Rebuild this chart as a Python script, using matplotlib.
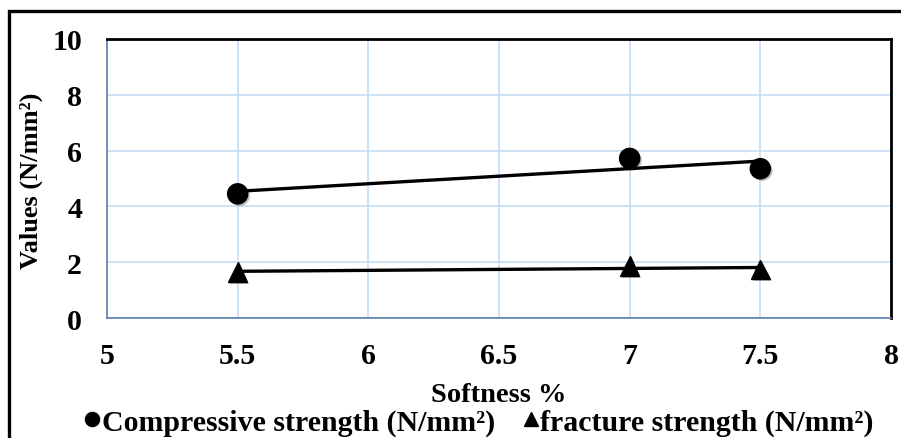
import numpy as np
import matplotlib.pyplot as plt
import matplotlib.patheffects as pe
from matplotlib.patches import Rectangle

plt.rcParams['font.family'] = ['Liberation Serif', 'DejaVu Serif']
plt.rcParams['font.weight'] = 'bold'

softness = [5.5, 7.0, 7.5]
compressive = [4.45, 5.72, 5.35]
fracture = [1.65, 1.87, 1.74]
xticks = [5, 5.5, 6, 6.5, 7, 7.5, 8]
yticks = [0, 2, 4, 6, 8, 10]

fig = plt.figure(figsize=(9.01, 4.39), dpi=100)
ax = fig.add_axes([107/901, 1 - 319/439, (891 - 107)/901, (319 - 40)/439])

# outer chart frame (runs off the right and bottom edge)
fig.patches.append(Rectangle((9/901, -0.05), 1.2, 1 - 12/439 + 0.05,
                             transform=fig.transFigure, fill=False,
                             edgecolor='black', linewidth=2.4, zorder=0))

xs = np.array(softness)
for ys in (compressive, fracture):
    k, b = np.polyfit(xs, ys, 1)
    ax.plot([xs.min(), xs.max()], [k*xs.min() + b, k*xs.max() + b],
            color='black', linewidth=2.4, zorder=3)

shadow = [pe.SimplePatchShadow(offset=(1.5, -1.5), alpha=0.25), pe.Normal()]
ax.plot(softness, compressive, 'o', color='black', markersize=14.5, zorder=4,
        label='Compressive strength (N/mm²)', path_effects=shadow)
ax.plot(softness, fracture, '^', color='black', markersize=14, zorder=4,
        label='fracture strength (N/mm²)', path_effects=shadow)

ax.set_xlim(5, 8)
ax.set_ylim(0, 10)
ax.set_xticks(xticks)
ax.set_xticklabels(['5', '5.5', '6', '6.5', '7', '7.5', '8'])
ax.set_yticks(yticks)
ax.tick_params(length=0, labelsize=21.5)
ax.tick_params(axis='y', pad=18)
ax.tick_params(axis='x', pad=17)
ax.grid(True, color='#c6dbf2', linewidth=1.2)
ax.set_axisbelow(True)

for s in ('top', 'right'):
    ax.spines[s].set_color('black')
    ax.spines[s].set_linewidth(2)
for s in ('left', 'bottom'):
    ax.spines[s].set_color('#5a7fae')
    ax.spines[s].set_linewidth(1.2)

ax.set_ylabel('Values (N/mm²)', fontsize=19, fontweight='bold')
ax.yaxis.set_label_coords((31 - 107)/784, (319 - 181)/279)
ax.yaxis.label.set_va('center')
ax.set_xlabel('Softness %', fontsize=20.5, fontweight='bold')
ax.xaxis.set_label_coords(0.5, (319 - 396)/279)
ax.xaxis.label.set_va('center')

leg = fig.legend(loc='center', bbox_to_anchor=(480/901, 1 - 423/439), ncol=2,
                 frameon=False, fontsize=21.5, markerscale=0.7,
                 handlelength=0.4, handletextpad=0.12, columnspacing=1.0,
                 borderpad=0)
for h in leg.legend_handles:
    h.set_path_effects([])

fig.savefig('out.png', dpi=100)
